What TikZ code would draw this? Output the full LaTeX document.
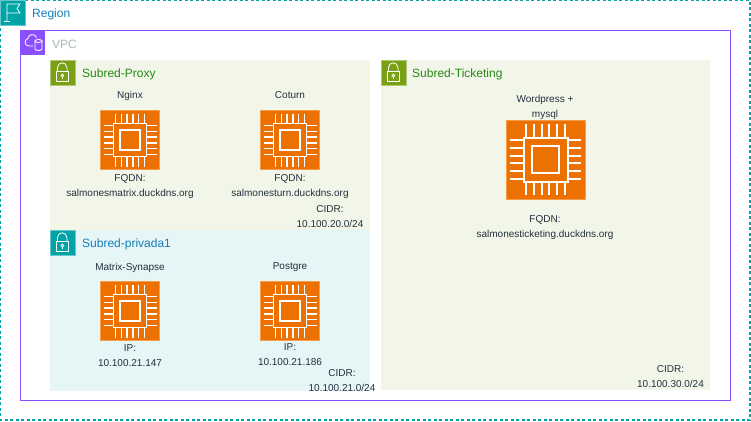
\documentclass[tikz,border=0pt]{standalone}
\usepackage{fontspec}
\setmainfont{Liberation Sans}
\usepackage{xcolor}
\usetikzlibrary{positioning}
\definecolor{regionteal}{HTML}{00A4A6}
\definecolor{regiontext}{HTML}{147EBA}
\definecolor{vpcpurple}{HTML}{8C4FFF}
\definecolor{vpctext}{HTML}{AAB7B8}
\definecolor{subgreen}{HTML}{7AA116}
\definecolor{subgreentext}{HTML}{248814}
\definecolor{subgreenbg}{HTML}{F2F6E8}
\definecolor{subtealbg}{HTML}{E6F6F7}
\definecolor{chiporange}{HTML}{ED7100}
\definecolor{labelgray}{HTML}{232F3E}
\tikzset{
    grouptitle/.style={anchor=west, inner sep=0pt, font=\fontsize{12}{14}\selectfont},
    chiplabel/.style={align=center, inner sep=0pt, text=labelgray, font=\fontsize{10}{15}\selectfont},
    iconline/.style={draw=white, line width=0.8pt},
    chipline/.style={draw=white, line width=1.5pt},
    chipicon/.pic={
        \fill[chiporange] (-30,-30) rectangle (30,30);
        \draw[chiporange!70!white, line width=0.6pt] (-29.7,-29.7) rectangle (29.7,29.7);
        \draw[chipline] (-16.5,-16.5) rectangle (16.5,16.5);
        \draw[chipline] (-10,-10) rectangle (10,10);
        \foreach \p in {-14.5,-8.7,-2.9,2.9,8.7,14.5} {
            \draw[chipline] (\p,-26.5) -- (\p,-16.5);
            \draw[chipline] (\p,16.5) -- (\p,26.5);
            \draw[chipline] (-26.5,\p) -- (-16.5,\p);
            \draw[chipline] (16.5,\p) -- (26.5,\p);
        }
    },
    lockicon/.pic={
        \draw[iconline] (6,11.7) rectangle (18.5,21.7);
        \draw[iconline] (7.5,11.7) -- (7.5,7.5) arc[start angle=180, end angle=360, radius=4.7] -- (16.9,11.7);
        \draw[iconline] (12.3,15.5) circle[radius=1.4];
        \draw[iconline] (12.3,16.9) -- (12.3,19.3);
    },
}
\begin{document}
\begin{tikzpicture}[x=1pt,y=-1pt]
    \useasboundingbox (0,0) rectangle (751,421);

    % Region
    \draw[regionteal, dash pattern=on 3pt off 2.5pt, line width=1.2pt] (0.8,0.5) rectangle (750,420);
    \filldraw[fill=regionteal, draw=regionteal!60!white, line width=0.6pt] (0.3,0.3) rectangle (25.3,25.3);
    \draw[iconline] (7,21) -- (7,4) -- (20,4) -- (17,8.5) -- (20,13) -- (7,13);
    \draw[iconline] (4,21) -- (10,21);
    \node[grouptitle, text=regiontext] (regiontitle) at (32,14) {Region};

    % VPC
    \draw[vpcpurple, line width=1pt] (20.5,30.5) rectangle (730.5,400.5);
    \fill[vpcpurple] (20,30) rectangle (45,55);
    \draw[iconline] (33,46) -- (29,46) .. controls (24,46) and (24,39) .. (28,38.5)
        .. controls (28,34) and (35,33) .. (36.5,37.5);
    \draw[iconline] (35,41) -- (35,49) arc[start angle=180, end angle=0, x radius=3.5, y radius=1.5] -- (42,41);
    \draw[iconline] (38.5,41) ellipse[x radius=3.5, y radius=1.5];
    \node[grouptitle, text=vpctext] (vpctitle) at (52,44) {VPC};

    % Subnet fills
    \fill[subgreenbg] (50,60) rectangle (370,230);
    \fill[subtealbg] (50,230) rectangle (370,390.5);
    \fill[subgreenbg] (381,60) rectangle (710,390);

    % Subnet headers
    \filldraw[fill=subgreen, draw=subgreen!60!white, line width=0.6pt] (50.3,60.3) rectangle (75.3,85.3);
    \pic at (50,60) {lockicon};
    \node[grouptitle, text=subgreentext] (proxytitle) at (82,74) {Subred-Proxy};
    \filldraw[fill=regionteal, draw=regionteal!60!white, line width=0.6pt] (50.3,230.3) rectangle (75.3,255.3);
    \pic at (50,230) {lockicon};
    \node[grouptitle, text=regiontext] (privadatitle) at (82,244) {Subred-privada1};
    \filldraw[fill=subgreen, draw=subgreen!60!white, line width=0.6pt] (381.3,60.3) rectangle (406.3,85.3);
    \pic at (381,60) {lockicon};
    \node[grouptitle, text=subgreentext] (ticketingtitle) at (412,74) {Subred-Ticketing};

    % Instances
    \pic (nginx) at (130,140) {chipicon};
    \pic (coturn) at (290,140) {chipicon};
    \pic (synapse) at (130,311) {chipicon};
    \pic (postgre) at (290,311) {chipicon};
    \pic[scale=1.3333, chipline/.append style={line width=2pt}] (wordpress) at (545.5,159.5) {chipicon};

    % Instance labels
    \node[chiplabel] (nginxname) at (130,96) {Nginx};
    \node[chiplabel] (coturnname) at (290,95.5) {Coturn};
    \node[chiplabel] (wordpressname) at (545,107) {Wordpress +\\mysql};
    \node[chiplabel] (synapsename) at (130,267.5) {Matrix-Synapse};
    \node[chiplabel] (postgrename) at (290,267) {Postgre};

    \node[chiplabel] (nginxfqdn) at (130,187) {FQDN:\\salmonesmatrix.duckdns.org};
    \node[chiplabel] (coturnfqdn) at (290,187) {FQDN:\\salmonesturn.duckdns.org};
    \node[chiplabel] (wordpressfqdn) at (545,228) {FQDN:\\salmonesticketing.duckdns.org};
    \node[chiplabel] (synapseip) at (130,356) {IP:\\10.100.21.147};
    \node[chiplabel] (postgreip) at (290,355) {IP:\\10.100.21.186};

    % CIDR labels
    \node[chiplabel] (proxycidr) at (330,216.5) {CIDR:\\10.100.20.0/24};
    \node[chiplabel] (privadacidr) at (342,381) {CIDR:\\10.100.21.0/24};
    \node[chiplabel] (ticketingcidr) at (670.5,377) {CIDR:\\10.100.30.0/24};
\end{tikzpicture}
\end{document}
